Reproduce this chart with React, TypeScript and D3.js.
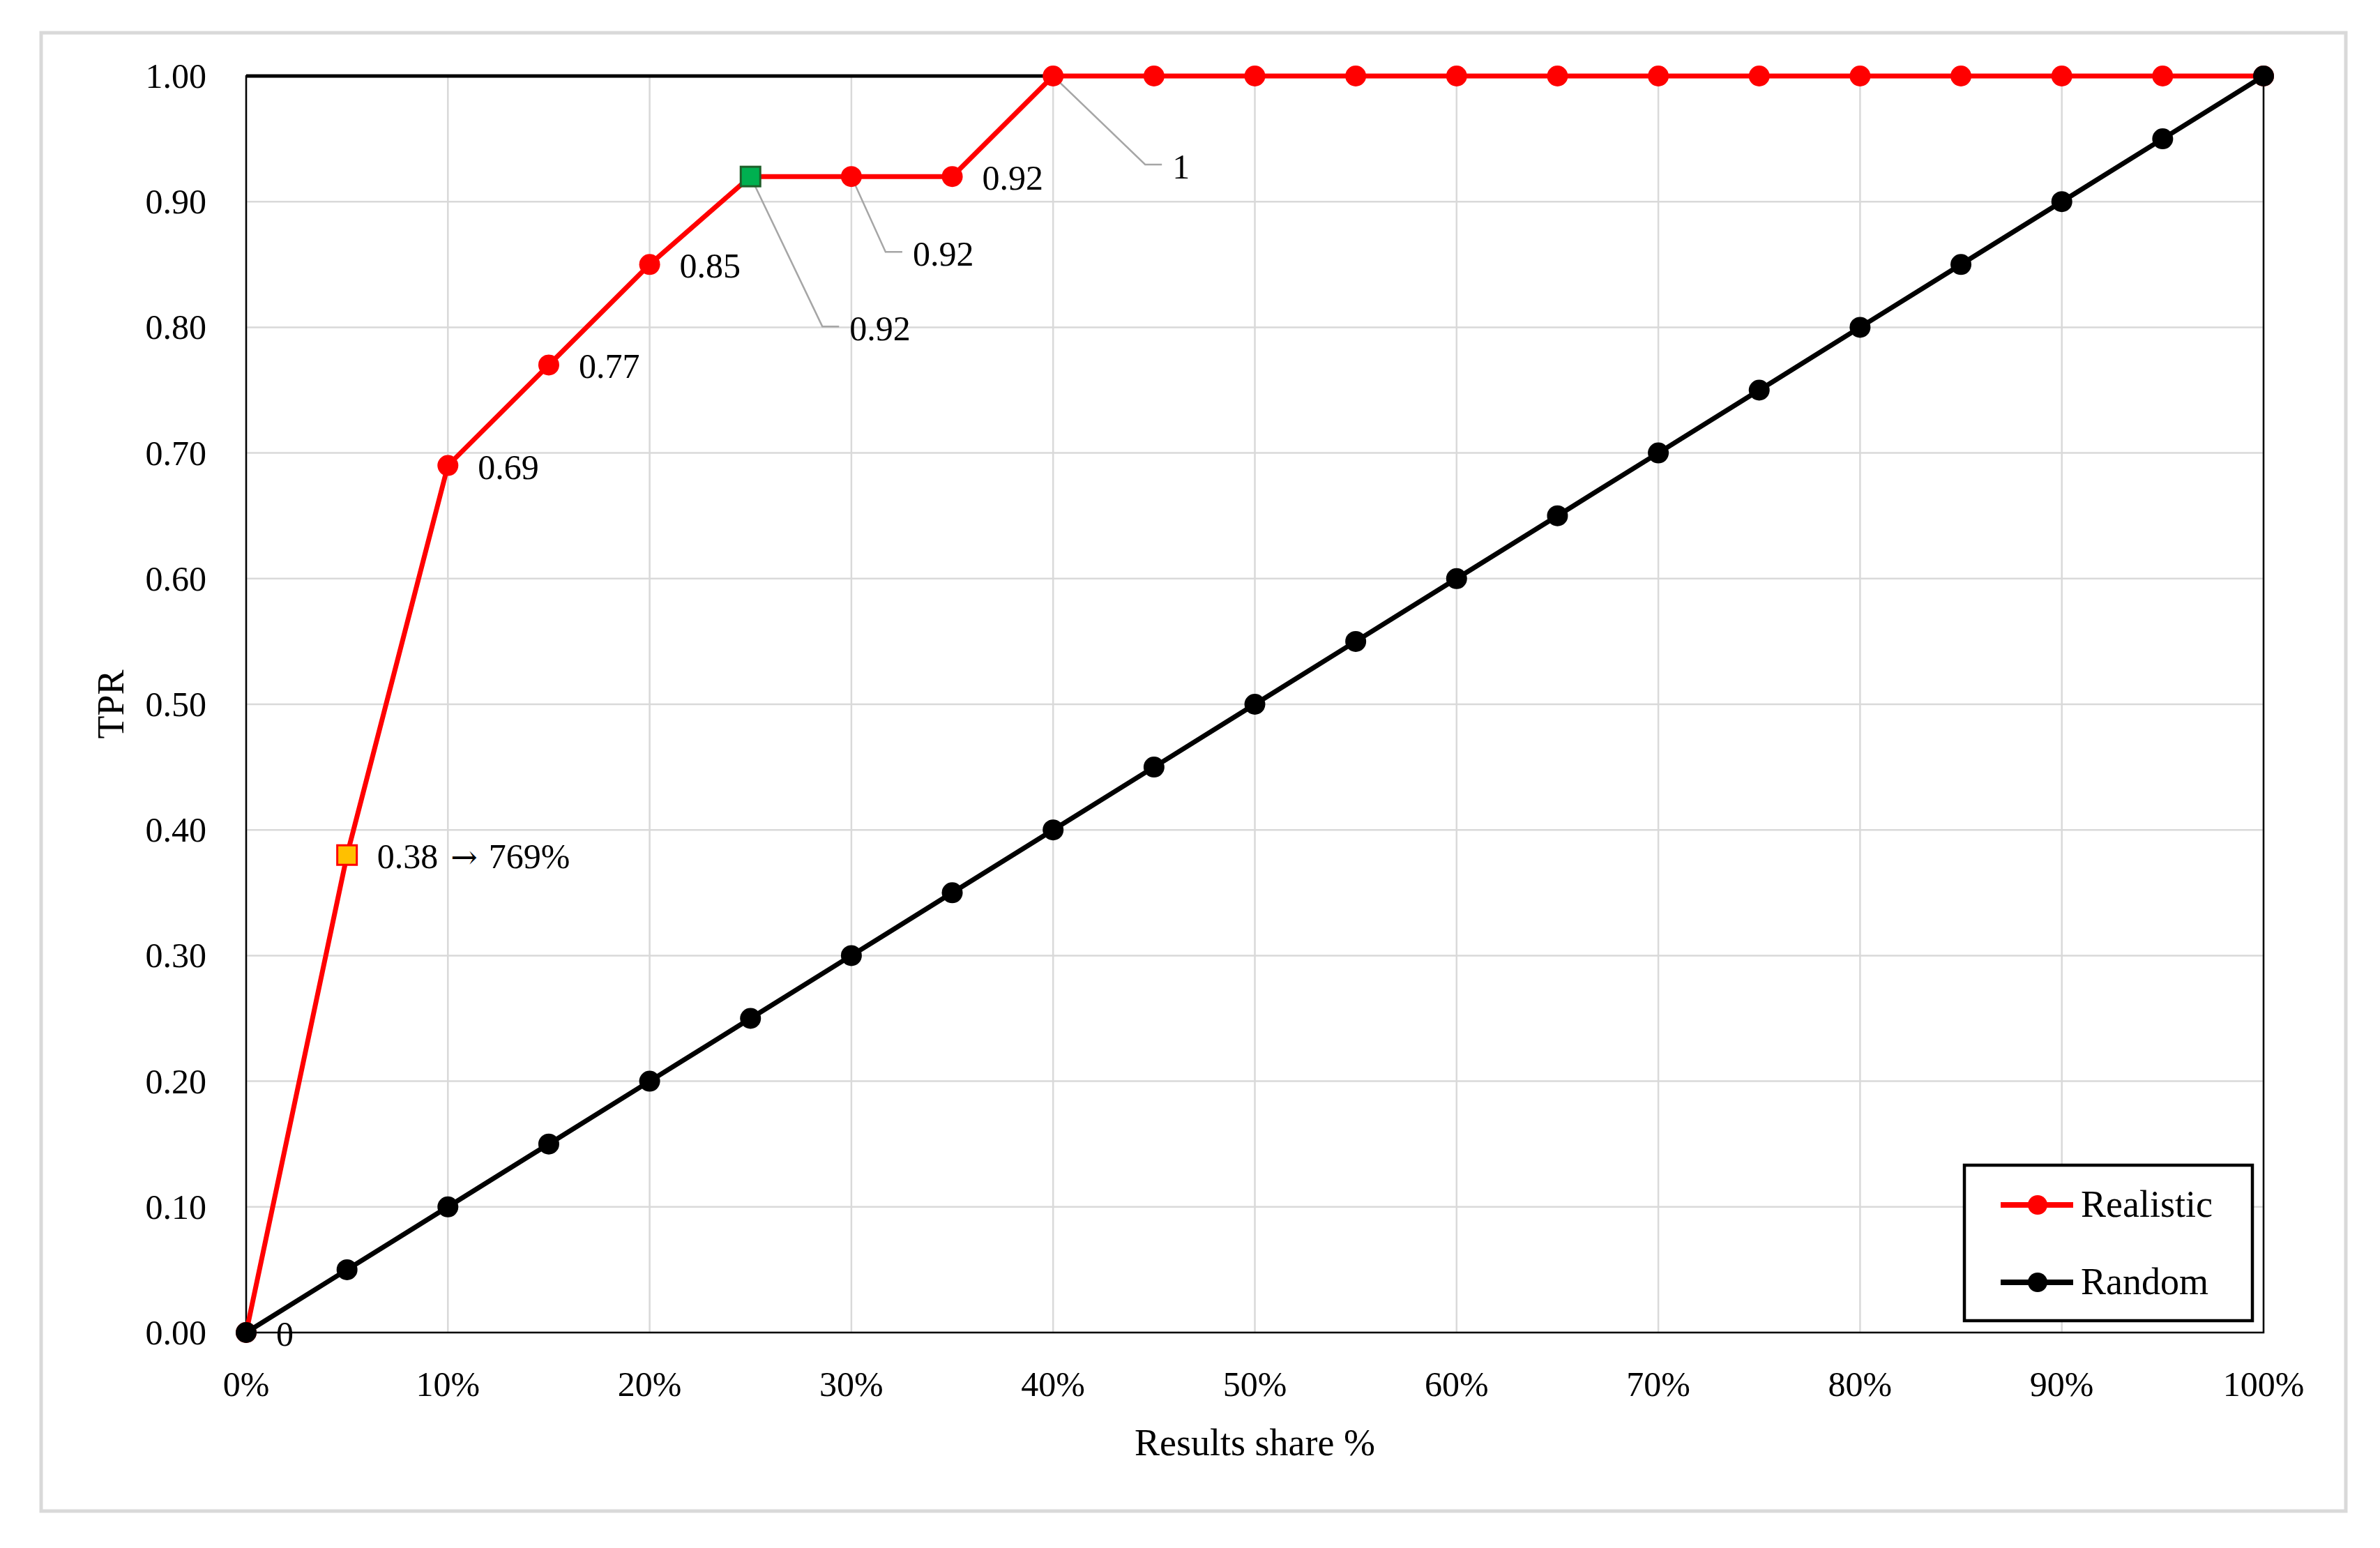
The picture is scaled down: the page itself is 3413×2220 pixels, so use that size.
import * as d3 from 'd3';

// chart data
const shares = [0, 0.05, 0.1, 0.15, 0.2, 0.25, 0.3, 0.35, 0.4, 0.45, 0.5, 0.55, 0.6, 0.65, 0.7, 0.75, 0.8, 0.85, 0.9, 0.95, 1];
const realistic = [0, 0.38, 0.69, 0.77, 0.85, 0.92, 0.92, 0.92, 1, 1, 1, 1, 1, 1, 1, 1, 1, 1, 1, 1, 1];
const random = [0, 0.05, 0.1, 0.15, 0.2, 0.25, 0.3, 0.35, 0.4, 0.45, 0.5, 0.55, 0.6, 0.65, 0.7, 0.75, 0.8, 0.85, 0.9, 0.95, 1];
const realisticLabels = ['0', '0.38 \u2192 769%', '0.69', '0.77', '0.85', '0.92', '0.92', '0.92', '1'];
const yTicks = [0, 0.1, 0.2, 0.3, 0.4, 0.5, 0.6, 0.7, 0.8, 0.9, 1];
const xTicks = [0, 0.1, 0.2, 0.3, 0.4, 0.5, 0.6, 0.7, 0.8, 0.9, 1];
const seriesNames = ['Realistic', 'Random'];

// highlighted points (index -> square marker colours)
const squareMarkers: Record<number, { fill: string; stroke: string }> = {
  1: { fill: '#ffc000', stroke: '#ff0000' },
  5: { fill: '#00b050', stroke: '#1f5f2a' },
};

// labels with leader lines: index -> elbow offset from the point
const leaders: Record<number, { dx: number; dy: number }> = {
  5: { dx: 103, dy: 215 },
  6: { dx: 49, dy: 108 },
  8: { dx: 132, dy: 127 },
};

const W = 3413;
const H = 2220;
const plot = { left: 353, right: 3246, top: 109, bottom: 1911 };
const FONT = '"Liberation Serif", "Times New Roman", serif';
const RED = '#ff0000';
const GRID = '#d9d9d9';

// the arrow glyph of Liberation Serif is tiny, so draw it with DejaVu
function labelText(lab: string) {
  const parts = lab.split(' \u2192 ');
  if (parts.length === 1) return lab;
  return (
    <>
      {parts[0]}
      <tspan dx={18} fontFamily='"DejaVu Serif", serif' fontSize={46}>
        {'\u2192'}
      </tspan>
      <tspan dx={16}>{parts[1]}</tspan>
    </>
  );
}

export default function App() {
  const x = d3.scaleLinear().domain([0, 1]).range([plot.left, plot.right]);
  const y = d3.scaleLinear().domain([0, 1]).range([plot.bottom, plot.top]);

  const line = d3
    .line<number>()
    .x((_, i) => x(shares[i]))
    .y((d) => y(d));

  const legendX = 2817;
  const legendY = 1671;
  const rows = [1728, 1839];

  return (
    <svg
      width={W}
      height={H}
      style={{ position: 'absolute', left: 0, top: 0, background: '#fff' }}
      fontFamily={FONT}
    >
      <rect x={59} y={47} width={3305} height={2120} fill="#fff" stroke={GRID} strokeWidth={5} />

      {/* gridlines */}
      {yTicks.map((t) => (
        <line key={'gy' + t} x1={plot.left} x2={plot.right} y1={y(t)} y2={y(t)} stroke={GRID} strokeWidth={2.5} />
      ))}
      {xTicks.map((t) => (
        <line key={'gx' + t} x1={x(t)} x2={x(t)} y1={plot.top} y2={plot.bottom} stroke={GRID} strokeWidth={2.5} />
      ))}

      {/* plot border */}
      <rect
        x={plot.left}
        y={plot.top}
        width={plot.right - plot.left}
        height={plot.bottom - plot.top}
        fill="none"
        stroke="#000"
        strokeWidth={2.5}
      />
      <line x1={plot.left} x2={plot.right} y1={plot.top} y2={plot.top} stroke="#000" strokeWidth={5} />

      {/* y tick labels */}
      {yTicks.map((t) => (
        <text key={'ty' + t} x={296} y={y(t) + 17} textAnchor="end" fontSize={50} fill="#000">
          {d3.format('.2f')(t)}
        </text>
      ))}
      {/* x tick labels */}
      {xTicks.map((t) => (
        <text key={'tx' + t} x={x(t)} y={2002} textAnchor="middle" fontSize={50} fill="#000">
          {d3.format('.0%')(t)}
        </text>
      ))}

      {/* axis titles */}
      <text x={(plot.left + plot.right) / 2} y={2087} textAnchor="middle" fontSize={54} fill="#000">
        Results share %
      </text>
      <text
        transform={`translate(177, ${(plot.top + plot.bottom) / 2}) rotate(-90)`}
        textAnchor="middle"
        fontSize={54}
        fill="#000"
      >
        TPR
      </text>

      {/* leader lines */}
      {Object.entries(leaders).map(([k, l]) => {
        const i = +k;
        const px = x(shares[i]);
        const py = y(realistic[i]);
        return (
          <polyline
            key={'ld' + k}
            points={`${px},${py} ${px + l.dx},${py + l.dy} ${px + l.dx + 24},${py + l.dy}`}
            fill="none"
            stroke="#a6a6a6"
            strokeWidth={2.5}
          />
        );
      })}

      {/* realistic series */}
      <path d={line(realistic) ?? ''} fill="none" stroke={RED} strokeWidth={7} strokeLinejoin="round" />
      {realistic.map((v, i) => {
        const sq = squareMarkers[i];
        if (sq) {
          return (
            <rect
              key={'rm' + i}
              x={x(shares[i]) - 14}
              y={y(v) - 14}
              width={28}
              height={28}
              fill={sq.fill}
              stroke={sq.stroke}
              strokeWidth={3}
            />
          );
        }
        return <circle key={'rm' + i} cx={x(shares[i])} cy={y(v)} r={15} fill={RED} />;
      })}

      {/* random series */}
      <path d={line(random) ?? ''} fill="none" stroke="#000" strokeWidth={7} strokeLinejoin="round" />
      {random.map((v, i) => (
        <circle key={'bm' + i} cx={x(shares[i])} cy={y(v)} r={15} fill="#000" />
      ))}

      {/* data labels */}
      {realisticLabels.map((lab, i) => {
        const px = x(shares[i]);
        const py = y(realistic[i]);
        const l = leaders[i];
        const lx = l ? px + l.dx + 39 : px + 43;
        const ly = l ? py + l.dy + 3 : py + 2;
        return (
          <text key={'lb' + i} x={lx} y={ly + 17} fontSize={50} fill="#000">
            {labelText(lab)}
          </text>
        );
      })}

      {/* legend */}
      <rect x={legendX} y={legendY} width={413} height={223} fill="#fff" stroke="#000" strokeWidth={4.5} />
      {seriesNames.map((name, i) => {
        const c = i === 0 ? RED : '#000';
        return (
          <g key={name}>
            <line x1={2869} x2={2973} y1={rows[i]} y2={rows[i]} stroke={c} strokeWidth={8} />
            <circle cx={2922} cy={rows[i]} r={14} fill={c} />
            <text x={2984} y={rows[i] + 17} fontSize={54} fill="#000">
              {name}
            </text>
          </g>
        );
      })}
    </svg>
  );
}
